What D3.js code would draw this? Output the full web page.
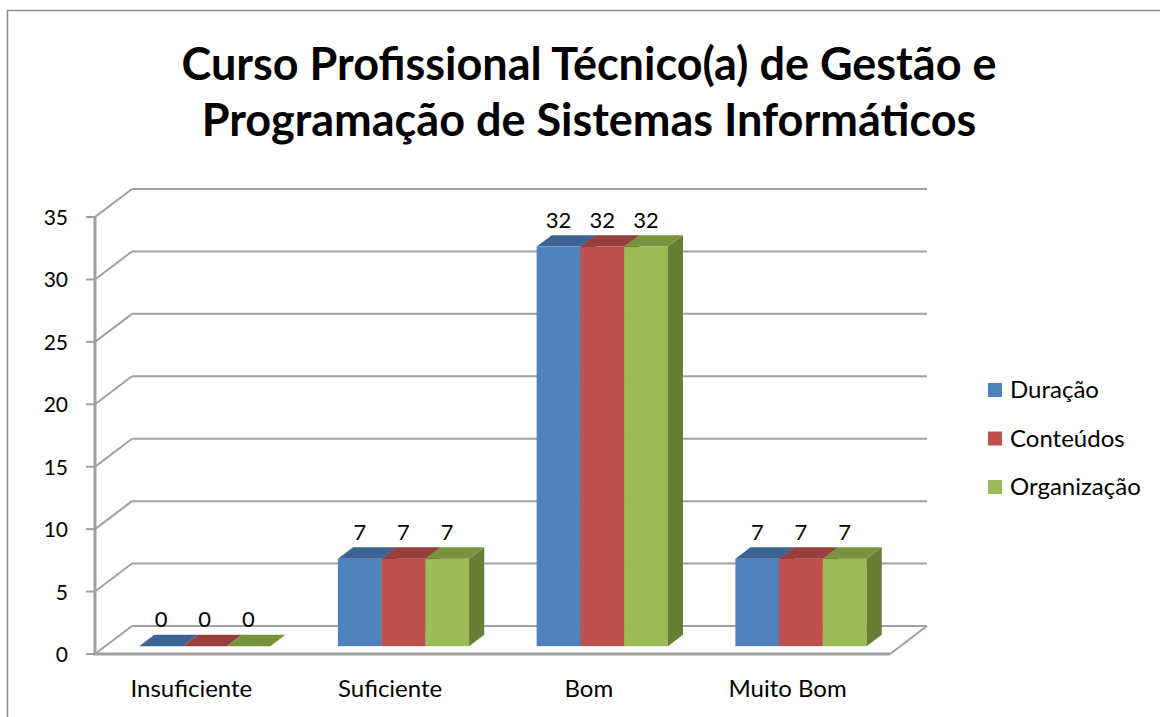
<!DOCTYPE html>
<html>
<head>
<meta charset="utf-8">
<style>
  body { margin: 0; background: #fff; }
  text { font-family: Lato, "Open Sans", sans-serif; fill: #000; }
  .grid { stroke: #a0a0a0; stroke-width: 2; fill: none; }
  .axis { stroke: #a0a0a0; stroke-width: 3; fill: none; }
</style>
<script src="https://cdn.jsdelivr.net/npm/d3@7"></script>
</head>
<body>
<svg id="chart" width="1160" height="717"></svg>
<script>
// dados
var categories = ["Insuficiente", "Suficiente", "Bom", "Muito Bom"];
var series = ["Duração", "Conteúdos", "Organização"];
var duracao = [0, 7, 32, 7];
var conteudos = [0, 7, 32, 7];
var organizacao = [0, 7, 32, 7];
var values = [duracao, conteudos, organizacao];
var yTicks = [0, 5, 10, 15, 20, 25, 30, 35];
var colors = ["#4f81bd", "#c0504d", "#9bbb59"];
var topColors = ["#3b6494", "#973f3c", "#77933c"];
var sideColors = ["#2f5280", "#7d3331", "#667f35"];

var svg = d3.select("#chart");

// moldura do gráfico
svg.append("rect")
   .attr("x", 7.5).attr("y", 10.5)
   .attr("width", 1170).attr("height", 730)
   .attr("fill", "#fff").attr("stroke", "#8c8c8c").attr("stroke-width", 1.5);

// título
var title = svg.append("text")
   .attr("text-anchor", "middle")
   .attr("font-weight", "bold")
   .attr("font-size", 45);
title.append("tspan").attr("x", 589).attr("y", 80).text("Curso Profissional Técnico(a) de Gestão e");
title.append("tspan").attr("x", 589).attr("y", 136).text("Programação de Sistemas Informáticos");

// escalas (plano da frente) + profundidade
var x0 = d3.scaleBand().domain(categories).range([95, 890]);
var y = d3.scaleLinear().domain([0, 35]).range([654, 217]);
var depthX = 37, depthY = -28; // deslocamento do plano de trás
var tFront = 0.28, tBack = 0.69; // posição das barras na profundidade
var groupW = x0.bandwidth() * 0.66;
var x1 = d3.scaleBand().domain(series).range([0, groupW]);

// paredes: linhas de grelha
var g = svg.append("g");
yTicks.forEach(function(t) {
  var yy = y(t);
  g.append("line").attr("class", "grid")
   .attr("x1", 95 + depthX).attr("y1", yy + depthY)
   .attr("x2", 890 + depthX).attr("y2", yy + depthY);
  g.append("line").attr("class", "grid")
   .attr("x1", 95).attr("y1", yy)
   .attr("x2", 95 + depthX).attr("y2", yy + depthY);
});

// chão
g.append("line").attr("class", "grid")
 .attr("x1", 890).attr("y1", y(0))
 .attr("x2", 890 + depthX).attr("y2", y(0) + depthY);
g.append("line").attr("class", "axis")
 .attr("x1", 93).attr("y1", y(0))
 .attr("x2", 890).attr("y2", y(0));

// eixo vertical
g.append("line").attr("class", "axis")
 .attr("x1", 95).attr("y1", y(35))
 .attr("x2", 95).attr("y2", y(0));
yTicks.forEach(function(t) {
  g.append("line").attr("class", "grid")
   .attr("x1", 86).attr("y1", y(t)).attr("x2", 95).attr("y2", y(t));
  g.append("text")
   .attr("x", 68).attr("y", y(t) + 8)
   .attr("text-anchor", "end")
   .attr("font-size", 21)
   .text(t);
});

// barras 3D
var bars = svg.append("g");
var labels = [];
categories.forEach(function(c, ci) {
  series.forEach(function(s, si) {
    var v = values[si][ci];
    var w = x1.bandwidth();
    var left = x0(c) + (x0.bandwidth() - groupW) / 2 + x1(s) + depthX * tFront;
    var bottom = y(0) + depthY * tFront;
    var top = y(v) + depthY * tFront;
    var dx = depthX * (tBack - tFront), dy = depthY * (tBack - tFront);
    // frente
    bars.append("rect")
        .attr("x", left).attr("y", top)
        .attr("width", w).attr("height", bottom - top)
        .attr("fill", colors[si]);
    // lado
    bars.append("path")
        .attr("d", "M" + [left + w, top] + "L" + [left + w + dx, top + dy] +
                   "L" + [left + w + dx, bottom + dy] + "L" + [left + w, bottom] + "Z")
        .attr("fill", sideColors[si]);
    // topo
    bars.append("path")
        .attr("d", "M" + [left, top] + "L" + [left + w, top] +
                   "L" + [left + w + dx, top + dy] + "L" + [left + dx, top + dy] + "Z")
        .attr("fill", topColors[si]);
    labels.push({x: left + w / 2, y: top - 19, v: v});
  });
});

// rótulos de dados
svg.append("g").selectAll("text")
   .data(labels).enter().append("text")
   .attr("x", function(d) { return d.x; })
   .attr("y", function(d) { return d.y; })
   .attr("text-anchor", "middle")
   .attr("font-size", 22)
   .text(function(d) { return d.v; });

// rótulos das categorias
svg.append("g").selectAll("text")
   .data(categories).enter().append("text")
   .attr("x", function(d) { return x0(d) + x0.bandwidth() / 2 - 3; })
   .attr("y", 697)
   .attr("text-anchor", "middle")
   .attr("font-size", 24)
   .text(function(d) { return d; });

// legenda
var legend = svg.append("g").selectAll("g")
   .data(series).enter().append("g")
   .attr("transform", function(d, i) { return "translate(988," + (383 + i * 48.5) + ")"; });
legend.append("rect")
   .attr("width", 14).attr("height", 14)
   .attr("fill", function(d, i) { return colors[i]; });
legend.append("text")
   .attr("x", 22).attr("y", 15)
   .attr("font-size", 24)
   .text(function(d) { return d; });
</script>
</body>
</html>
